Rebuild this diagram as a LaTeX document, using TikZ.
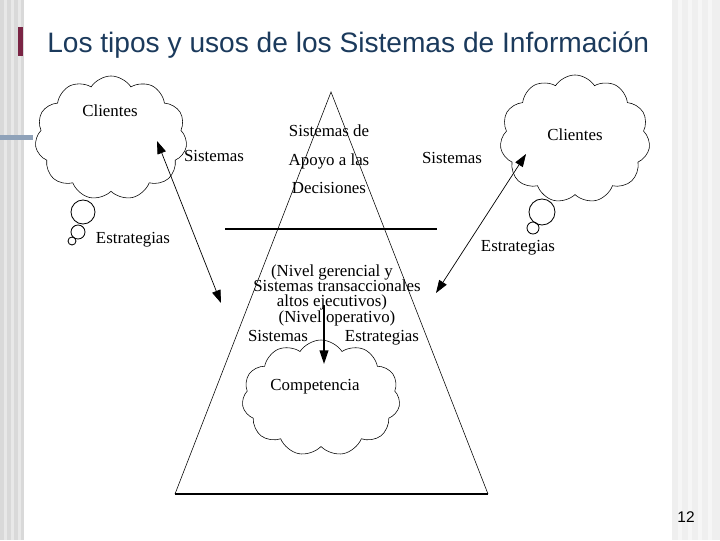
\documentclass[tikz,border=0pt]{standalone}
\usepackage{fontspec}
\setmainfont{Liberation Serif}
\newfontfamily\slidefont{Liberation Sans}
\usetikzlibrary{arrows.meta,shapes.symbols}
\definecolor{titleblue}{HTML}{1B3A5C}
\definecolor{stripeA}{HTML}{D9D9D9}
\definecolor{stripeB}{HTML}{E8E8E8}
\definecolor{stripeC}{HTML}{EFEFEF}
\definecolor{stripeD}{HTML}{F6F6F6}
\definecolor{barblue}{HTML}{8FA2B9}
\definecolor{logored}{HTML}{7A2444}
\tikzset{>=Latex,line width=.6pt,
  every node/.style={font=\fontsize{12}{14}\selectfont},
  lbl/.style={inner sep=0pt,align=center,text height=1.4ex,text depth=.2ex},
  puff/.style={cloud,draw,cloud puffs=11,cloud puff arc=115,aspect=1.2,inner sep=0pt},
  bubble/.style={draw,line width=.6pt},
  link/.style={{Triangle[length=3.2mm,width=2.2mm]}-{Triangle[length=3.2mm,width=2.2mm]},line width=.5pt},
  down/.style={-{Triangle[length=3.4mm,width=2.2mm]},line width=1pt}}

\begin{document}
\begin{tikzpicture}[x=0.025cm,y=-0.025cm]
\useasboundingbox (0,0) rectangle (720,540);
% slide background
\fill[stripeA] (0,0) rectangle (24,540);
\foreach \x in {4,11,18} \fill[stripeB] (\x,0) rectangle ++(3,540);
\fill[stripeC] (672,0) rectangle (720,540);
\foreach \x in {678,688,698,708} \fill[stripeD] (\x,0) rectangle ++(4,540);
\fill[barblue] (0,135) rectangle (33,140);
\fill[logored] (18,27) rectangle (23,56);
\node[anchor=west,font=\slidefont\fontsize{20}{24}\selectfont,text=titleblue,inner sep=0pt] (title) at (47,45) {Los tipos y usos de los Sistemas de Información};
\node[font=\slidefont\fontsize{11}{13}\selectfont] (pagenum) at (686,517) {12};
% pyramid
\coordinate (apex) at (331,92);
\coordinate (baseL) at (175,494);
\coordinate (baseR) at (488,494);
\coordinate (midL) at (225,229);
\coordinate (midR) at (437,229);
\draw (baseL) -- (apex) -- (baseR);
\draw[line width=1.6pt] (baseL) -- (baseR);
\draw[line width=1pt] (midL) -- (midR);
\node[lbl] (dss1) at (329,133) {Sistemas de};
\node[lbl] (dss2) at (329,162) {Apoyo a las};
\node[lbl] (dss3) at (329,190) {Decisiones};
\node[lbl] (ger1) at (332,273) {(Nivel gerencial y};
\node[lbl] (tra1) at (337,288) {Sistemas transaccionales};
\node[lbl] (ger2) at (332,303) {altos ejecutivos)};
\node[lbl] (tra2) at (337,319) {(Nivel operativo)};
\node[lbl] (sisC) at (278,338) {Sistemas};
\node[lbl] (estC) at (382,338) {Estrategias};
% clouds
\node[puff,minimum width=3.8cm,minimum height=3.1cm] (cliL) at (111,138) {};
\node[lbl] (cliLtxt) at (110,113) {Clientes};
\draw[bubble] (83,212) circle (12);
\draw[bubble] (78,232) circle (7);
\draw[bubble] (72,241) circle (4);
\node[lbl] (estL) at (133,240) {Estrategias};
\node[lbl] (sisL) at (214,158) {Sistemas};
\node[puff,minimum width=3.75cm,minimum height=3.2cm] (cliR) at (575,139) {};
\node[lbl] (cliRtxt) at (575,137) {Clientes};
\draw[bubble] (542,212) circle (13);
\draw[bubble] (533,228) circle (6);
\node[lbl] (estR) at (518,248) {Estrategias};
\node[lbl] (sisR) at (452,160) {Sistemas};
\node[puff,minimum width=3.95cm,minimum height=2.9cm] (comp) at (321,398) {};
\node[lbl] (comptxt) at (315,387) {Competencia};
% connectors
\coordinate (tipL) at (157,141);
\coordinate (endL) at (221,303);
\coordinate (tipR) at (526,154);
\coordinate (endR) at (436,293);
\coordinate (vTop) at (324,305);
\coordinate (vEnd) at (324,364);
\draw[link] (tipL) -- (endL);
\draw[link] (tipR) -- (endR);
\draw[down] (vTop) -- (vEnd);
\end{tikzpicture}
\end{document}
